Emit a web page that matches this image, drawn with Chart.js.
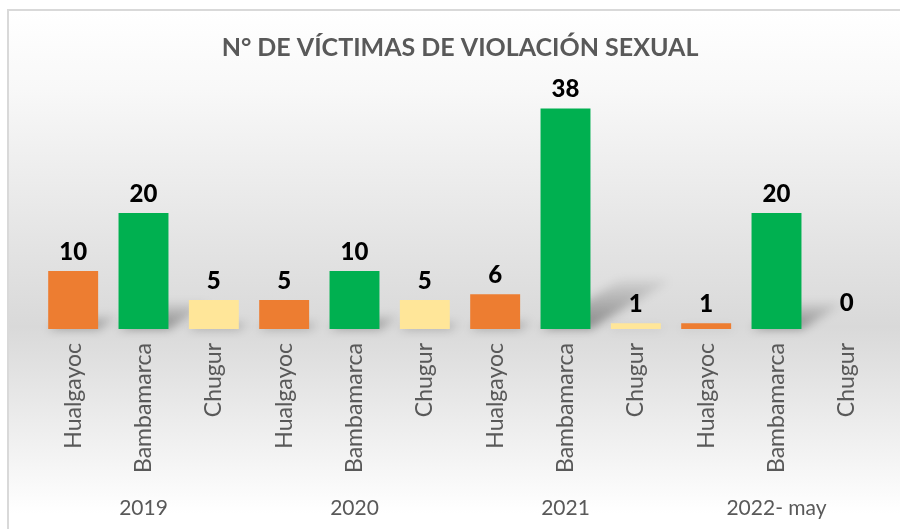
<!DOCTYPE html>
<html>
<head>
<meta charset="utf-8">
<script src="https://cdn.jsdelivr.net/npm/chart.js@4/dist/chart.umd.min.js"></script>
<style>
  body { margin: 0; background: #fff; }
  canvas { display: block; }
</style>
</head>
<body>
<canvas id="victimasChart" width="900" height="529"></canvas>
<script>
// datos
const years = ['2019', '2020', '2021', '2022- may'];
const districts = ['Hualgayoc', 'Bambamarca', 'Chugur'];
const values = [10, 20, 5, 5, 10, 5, 6, 38, 1, 1, 20, 0];
const districtColors = ['#ED7D31', '#00B050', '#FFE699'];

const labels = [];
const yearTicks = [];
const barColors = [];
years.forEach(y => {
    districts.forEach((d, i) => {
        labels.push(d);
        yearTicks.push(i === 1 ? y : '');
        barColors.push(districtColors[i]);
    });
});

const FONT = 'Lato, "Open Sans", sans-serif';

// fondo degradado estilo Excel + borde
const backgroundPlugin = {
    id: 'fondo',
    beforeDraw(chart) {
        const ctx = chart.ctx;
        const h = chart.height, w = chart.width;
        ctx.save();
        ctx.fillStyle = '#ffffff';
        ctx.fillRect(0, 0, w, h);
        const g = ctx.createLinearGradient(0, 11, 0, h);
        g.addColorStop(0, '#ffffff');
        g.addColorStop(0.15, '#f8f8f8');
        g.addColorStop(0.61, '#d9d9d9');
        g.addColorStop(0.97, '#ffffff');
        ctx.fillStyle = g;
        ctx.fillRect(9, 11, w - 9, h - 11);
        ctx.fillStyle = '#d9d9d9';
        ctx.fillRect(7, 9, w - 7, 2);
        ctx.fillRect(7, 9, 2, h - 9);
        ctx.restore();
    }
};

// sombras en perspectiva detras de las barras
const shadowPlugin = {
    id: 'sombras',
    beforeDatasetsDraw(chart) {
        const ctx = chart.ctx;
        const meta = chart.getDatasetMeta(0);
        ctx.save();
        ctx.filter = 'blur(5px)';
        meta.data.forEach(bar => {
            const p = bar.getProps(['x', 'y', 'base', 'width'], true);
            const h = p.base - p.y;
            if (h <= 0) return;
            const left = p.x - p.width / 2, right = p.x + p.width / 2;
            const dx = 0.36 * h, dy = 0.22 * h;
            const g = ctx.createLinearGradient(0, p.base, 0, p.base - dy);
            g.addColorStop(0, 'rgba(0,0,0,0.38)');
            g.addColorStop(1, 'rgba(0,0,0,0.06)');
            ctx.fillStyle = g;
            ctx.beginPath();
            ctx.moveTo(left, p.base);
            ctx.lineTo(right, p.base);
            ctx.lineTo(right + dx, p.base - dy);
            ctx.lineTo(left + dx, p.base - dy);
            ctx.closePath();
            ctx.fill();
        });
        ctx.restore();
    }
};

// etiquetas de valor encima de cada barra
const valueLabelPlugin = {
    id: 'etiquetas',
    afterDatasetsDraw(chart) {
        const ctx = chart.ctx;
        const meta = chart.getDatasetMeta(0);
        ctx.save();
        ctx.font = '900 24px ' + FONT;
        ctx.fillStyle = '#000000';
        ctx.textAlign = 'center';
        ctx.textBaseline = 'bottom';
        meta.data.forEach((bar, i) => {
            const off = values[i] === 0 ? 14 : 7;
            ctx.fillText(String(values[i]), bar.x, bar.y - off);
        });
        ctx.restore();
    }
};

new Chart(document.getElementById('victimasChart'), {
    type: 'bar',
    data: {
        labels: labels,
        datasets: [{
            data: values,
            backgroundColor: barColors,
            barPercentage: 0.71,
            categoryPercentage: 1
        }]
    },
    options: {
        responsive: false,
        animation: false,
        layout: { padding: { left: 38, right: 18, top: 0, bottom: 0 } },
        plugins: {
            legend: { display: false },
            tooltip: { enabled: false },
            title: {
                display: true,
                text: 'N° DE VÍCTIMAS DE VIOLACIÓN SEXUAL',
                color: '#595959',
                font: { family: FONT, size: 25, weight: 'bold' },
                padding: { top: 33, bottom: 34 }
            }
        },
        scales: {
            y: {
                display: false,
                min: 0,
                max: 40
            },
            x: {
                weight: 0,
                grid: { display: false, drawTicks: false },
                border: { display: false },
                ticks: {
                    color: '#595959',
                    font: { family: FONT, size: 23 },
                    minRotation: 90,
                    maxRotation: 90,
                    autoSkip: false,
                    padding: 14
                },
                afterFit(scale) { scale.height = 160; }
            },
            year: {
                type: 'category',
                position: 'bottom',
                labels: yearTicks,
                offset: true,
                weight: 1,
                grid: { display: false, drawTicks: false },
                border: { display: false },
                ticks: {
                    color: '#595959',
                    font: { family: FONT, size: 21 },
                    maxRotation: 0,
                    minRotation: 0,
                    autoSkip: false,
                    padding: 7
                },
                afterFit(scale) { scale.height = 40; }
            }
        }
    },
    plugins: [backgroundPlugin, shadowPlugin, valueLabelPlugin]
});
</script>
</body>
</html>
